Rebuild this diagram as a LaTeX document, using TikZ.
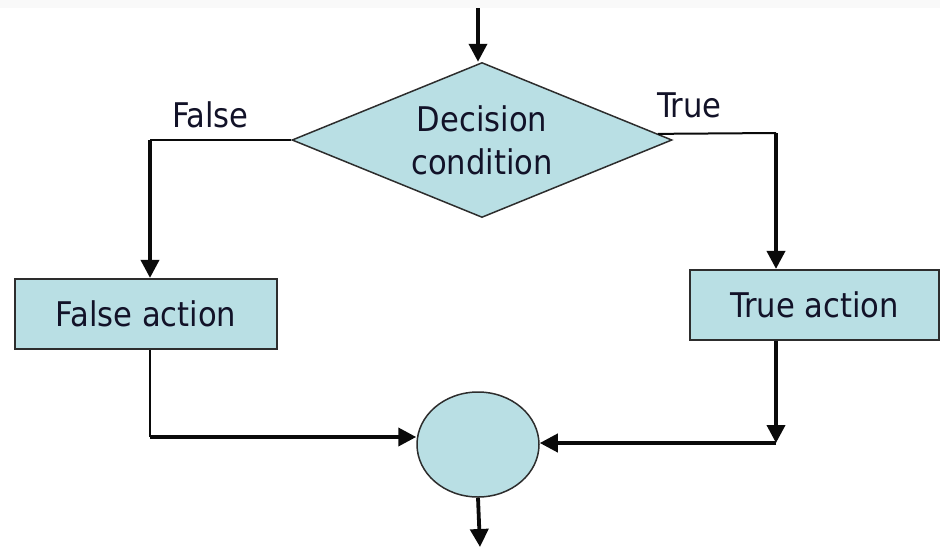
\documentclass[tikz,border=0pt]{standalone}
\usepackage{fontspec}
\setmainfont{DejaVu Sans Condensed}
\usetikzlibrary{shapes.geometric,arrows.meta}

\definecolor{boxfill}{RGB}{185,223,228}
\definecolor{inkline}{RGB}{10,10,10}
\definecolor{inktext}{RGB}{18,18,40}
\definecolor{edgegray}{RGB}{45,45,45}

\tikzset{
  x=1pt, y=-1pt,
  txt/.style={font=\fontsize{34}{43}\selectfont, text=inktext},
  actionbox/.style={draw=edgegray, line width=2.2pt, fill=boxfill, inner sep=0pt, txt},
  decisionbox/.style={diamond, aspect=2.45, draw=edgegray, line width=1.5pt, fill=boxfill,
    minimum width=380pt, minimum height=155pt, inner sep=0pt, align=center, txt},
  joinpoint/.style={ellipse, draw=edgegray, line width=1.5pt, fill=boxfill,
    minimum width=122pt, minimum height=105pt, inner sep=0pt},
  flowthin/.style={draw=inkline, line width=2pt},
  flowthick/.style={draw=inkline, line width=3.8pt},
  flowarrow/.style={flowthick, -{Triangle[length=18pt,width=18pt]}},
  branchlabel/.style={txt, inner sep=0pt, anchor=base west}
}

\begin{document}
\begin{tikzpicture}
  \useasboundingbox (0,0) rectangle (940,547);
  % faint band along the top edge
  \fill[gray!5] (0,0) rectangle (940,8);

  % decision, actions and the joining point
  \node[decisionbox] (dec) at (482,140) {Decision\\condition};
  \node[actionbox, minimum width=262pt, minimum height=70pt] (fact) at (146,314) {False action};
  \node[actionbox, minimum width=249pt, minimum height=70pt] (tact) at (814.5,305) {True action};
  \node[joinpoint] (join) at (478,444.5) {};

  % branch labels
  \node[branchlabel] (flab) at (172,127) {False};
  \node[branchlabel] (tlab) at (657,117) {True};

  % corner points of the connectors
  \coordinate (entry) at (478,8);
  \coordinate (fc) at (150,140);
  \coordinate (tc) at (776,133);
  \coordinate (fb) at (150,437);
  \coordinate (tb) at (776,443);
  \coordinate (exit) at (480,547);

  % incoming flow
  \draw[flowarrow] (entry) -- (entry |- dec.north);

  % false branch
  \draw[flowthin] (dec.west) -- (fc);
  \draw[flowarrow] (fc) -- (fc |- fact.north);
  \draw[flowthin] (fact.south -| fb) -- (fb);
  \draw[flowarrow] (fb) -- (fb -| join.west);

  % true branch
  \draw[flowthin] (dec.2) -- (tc);
  \draw[flowarrow] (tc) -- (tc |- tact.north);
  \draw[flowarrow] (tact.south -| tb) -- (tb);
  \draw[flowarrow] (tb) -- (tb -| join.east);

  % outgoing flow
  \draw[flowarrow] (join.south) -- (exit);
\end{tikzpicture}
\end{document}
